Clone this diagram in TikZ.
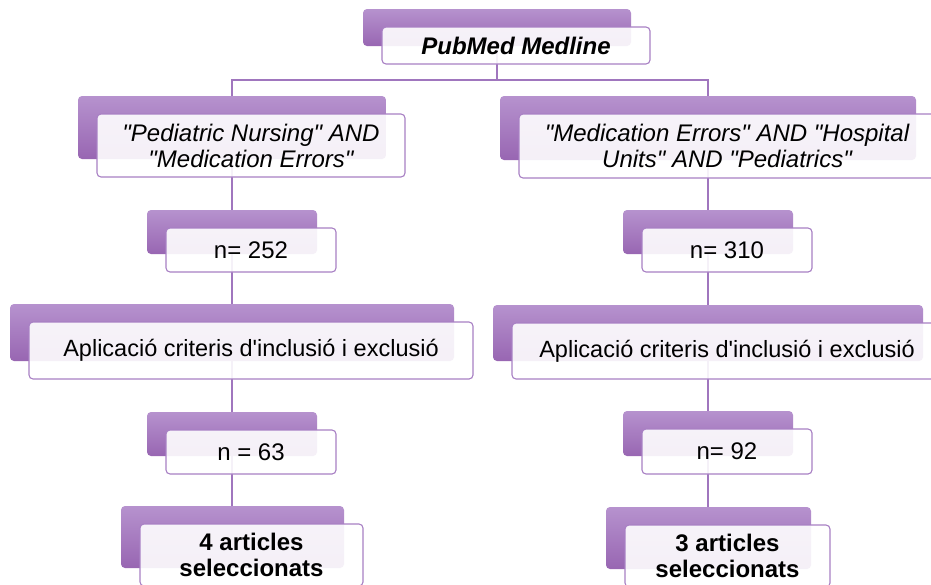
\documentclass[tikz,border=0pt]{standalone}
\usepackage{fontspec}
\setmainfont{Liberation Sans}[Ligatures=TeXOff]
\pgfdeclarelayer{lines}
\pgfdeclarelayer{backs}
\pgfsetlayers{lines,backs,main}
\definecolor{backtop}{RGB}{182,146,206}
\definecolor{backbot}{RGB}{152,102,178}
\definecolor{frontborder}{RGB}{168,128,196}
\definecolor{linecol}{RGB}{160,118,190}
\tikzset{
  backbox/.style={rectangle, rounded corners=4pt, inner sep=0pt, outer sep=0pt,
    top color=backtop, bottom color=backbot, draw=none},
  frontbox/.style={rectangle, rounded corners=4pt, inner sep=2pt, outer sep=0pt,
    draw=frontborder, line width=1.1pt, fill=white, fill opacity=0.9, text opacity=1,
    align=center, font=\fontsize{24}{26}\selectfont},
  conn/.style={draw=linecol, line width=1.1pt}
}
\newcommand\twobox[6]{%
  \begin{pgfonlayer}{backs}
    \node[backbox, minimum width={(#4-#2)*1pt}, minimum height={(#5-#3)*1pt}]
      (b#1) at ({(#2+#4)/2},{(#3+#5)/2}) {};
  \end{pgfonlayer}
  \node[frontbox, minimum width={(#4-#2)*1pt}, minimum height={(#5-#3)*1pt}]
    (f#1) at ({(#2+#4)/2+19},{(#3+#5)/2+18}) {#6};
}
\begin{document}
\begin{tikzpicture}[x=1pt,y=-1pt]
\useasboundingbox (0,0) rectangle (931,584);
\begin{pgfonlayer}{lines}
  \fill[white] (0,0) rectangle (931,584);
\end{pgfonlayer}
\twobox{0}{363}{9}{631}{46}{\bfseries\itshape PubMed Medline}
\twobox{L1}{78}{96}{386}{159}{\itshape "Pediatric Nursing" AND\\\itshape "Medication Errors"}
\twobox{R1}{500}{96}{916}{160}{\itshape "Medication Errors" AND "Hospital\\\itshape Units" AND "Pediatrics"}
\twobox{L2}{147}{210}{317}{254}{n= 252}
\twobox{R2}{623}{210}{793}{254}{n= 310}
\twobox{L3}{10}{304}{454}{361}{\fontsize{23.5}{26}\selectfont Aplicació criteris d'inclusió i exclusió}
\twobox{R3}{493}{305}{923}{361}{\fontsize{23.5}{26}\selectfont Aplicació criteris d'inclusió i exclusió}
\twobox{L4}{147}{412}{317}{456}{n = 63}
\twobox{R4}{623}{411}{793}{456}{n= 92}
\twobox{L5}{121}{506}{344}{568}{\bfseries 4 articles\\\bfseries seleccionats}
\twobox{R5}{606}{507}{811}{569}{\bfseries 3 articles\\\bfseries seleccionats}
\begin{pgfonlayer}{lines}
  \path (b0.south) ++(0,34) coordinate (split);
  \draw[conn] (b0.south) -- (split);
  \draw[conn] (split) -| (bL1.north);
  \draw[conn] (split) -| (bR1.north);
  \draw[conn] (bL1.south) -- (bL1.south |- bL2.north);
  \draw[conn] (bL2.south) -- (bL2.south |- bL3.north);
  \draw[conn] (bL3.south) -- (bL3.south |- bL4.north);
  \draw[conn] (bL4.south) -- (bL4.south |- bL5.north);
  \draw[conn] (bR1.south) -- (bR1.south |- bR2.north);
  \draw[conn] (bR2.south) -- (bR2.south |- bR3.north);
  \draw[conn] (bR3.south) -- (bR3.south |- bR4.north);
  \draw[conn] (bR4.south) -- (bR4.south |- bR5.north);
\end{pgfonlayer}
\end{tikzpicture}
\end{document}
